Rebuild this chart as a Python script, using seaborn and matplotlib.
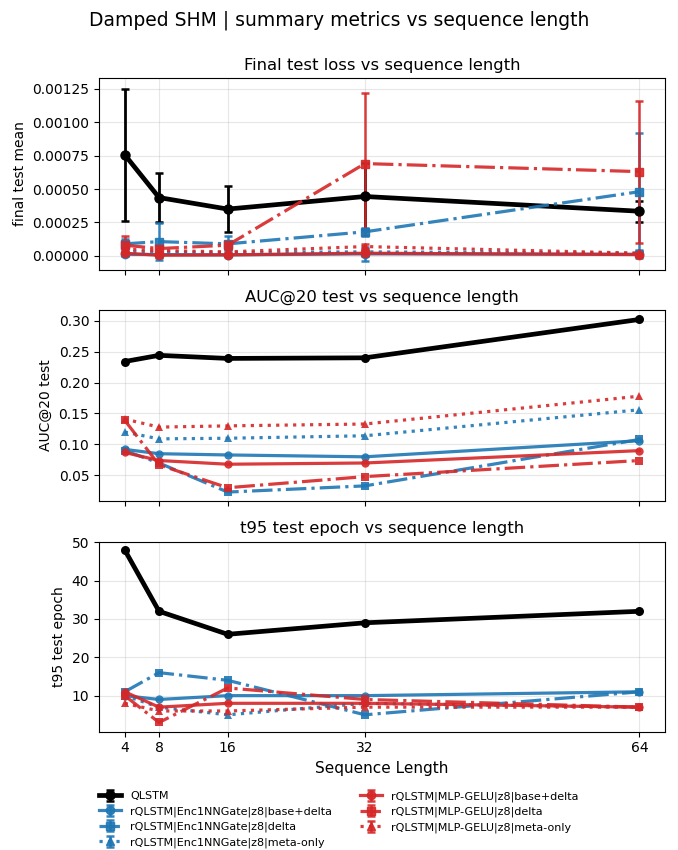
import numpy as np
import pandas as pd
import matplotlib
matplotlib.use("Agg")
import matplotlib.pyplot as plt
import seaborn as sns

seq_len = [4, 8, 16, 32, 64]

series_names = [
    "QLSTM",
    "rQLSTM|Enc1NNGate|z8|base+delta",
    "rQLSTM|Enc1NNGate|z8|delta",
    "rQLSTM|Enc1NNGate|z8|meta-only",
    "rQLSTM|MLP-GELU|z8|base+delta",
    "rQLSTM|MLP-GELU|z8|delta",
    "rQLSTM|MLP-GELU|z8|meta-only",
]

# Final test loss (mean) and error
loss_qlstm = [0.000756, 0.000436, 0.000350, 0.000444, 0.000334]
loss_enc_bd = [0.000012, 0.000010, 0.000008, 0.000015, 0.000012]
loss_enc_d = [0.000090, 0.000107, 0.000090, 0.000180, 0.000480]
loss_enc_m = [0.000030, 0.000030, 0.000025, 0.000030, 0.000020]
loss_mlp_bd = [0.000020, 0.000005, 0.000008, 0.000020, 0.000010]
loss_mlp_d = [0.000080, 0.000055, 0.000080, 0.000690, 0.000630]
loss_mlp_m = [0.000050, 0.000040, 0.000030, 0.000070, 0.000020]

err_qlstm = [0.000495, 0.000180, 0.000173, 0.000250, 0.000080]
err_enc_bd = [0.000010, 0.000020, 0.000010, 0.000055, 0.000030]
err_enc_d = [0.000040, 0.000140, 0.000060, 0.000030, 0.000440]
err_enc_m = [0.000020, 0.000020, 0.000020, 0.000020, 0.000020]
err_mlp_bd = [0.000010, 0.000010, 0.000010, 0.000020, 0.000010]
err_mlp_d = [0.000070, 0.000030, 0.000030, 0.000530, 0.000530]
err_mlp_m = [0.000020, 0.000020, 0.000020, 0.000020, 0.000010]

# AUC@20 test
auc_qlstm = [0.234, 0.244, 0.239, 0.240, 0.302]
auc_enc_bd = [0.092, 0.085, 0.083, 0.080, 0.106]
auc_enc_d = [0.090, 0.070, 0.023, 0.033, 0.108]
auc_enc_m = [0.120, 0.109, 0.110, 0.114, 0.156]
auc_mlp_bd = [0.087, 0.074, 0.068, 0.070, 0.090]
auc_mlp_d = [0.139, 0.067, 0.030, 0.048, 0.074]
auc_mlp_m = [0.141, 0.128, 0.130, 0.133, 0.178]

# t95 test epoch
t95_qlstm = [48, 32, 26, 29, 32]
t95_enc_bd = [10, 9, 10, 10, 11]
t95_enc_d = [11, 16, 14, 5, 11]
t95_enc_m = [10, 7, 5, 8, 7]
t95_mlp_bd = [11, 7, 8, 8, 7]
t95_mlp_d = [10, 3, 12, 9, 7]
t95_mlp_m = [8, 6, 6, 7, 7]

loss_vals = [loss_qlstm, loss_enc_bd, loss_enc_d, loss_enc_m, loss_mlp_bd, loss_mlp_d, loss_mlp_m]
loss_errs = [err_qlstm, err_enc_bd, err_enc_d, err_enc_m, err_mlp_bd, err_mlp_d, err_mlp_m]
auc_vals = [auc_qlstm, auc_enc_bd, auc_enc_d, auc_enc_m, auc_mlp_bd, auc_mlp_d, auc_mlp_m]
t95_vals = [t95_qlstm, t95_enc_bd, t95_enc_d, t95_enc_m, t95_mlp_bd, t95_mlp_d, t95_mlp_m]

BLUE = "#1f77b4"
RED = "#d62728"
styles = [
    dict(color="black", ls="-", marker="o", lw=3.4, ms=6.5, alpha=1.0),
    dict(color=BLUE, ls="-", marker="o", lw=2.3, ms=6, alpha=0.9),
    dict(color=BLUE, ls="-.", marker="s", lw=2.3, ms=6, alpha=0.9),
    dict(color=BLUE, ls=":", marker="^", lw=2.3, ms=6, alpha=0.9),
    dict(color=RED, ls="-", marker="o", lw=2.3, ms=6, alpha=0.9),
    dict(color=RED, ls="-.", marker="s", lw=2.3, ms=6, alpha=0.9),
    dict(color=RED, ls=":", marker="^", lw=2.3, ms=6, alpha=0.9),
]

plt.rcParams["font.family"] = ["DejaVu Sans"]
fig = plt.figure(figsize=(6.78, 8.5), dpi=100)
ax1 = fig.add_axes([0.146, 0.6824, 0.835, 0.2259])
ax2 = fig.add_axes([0.146, 0.4109, 0.835, 0.2239], sharex=ax1)
ax3 = fig.add_axes([0.146, 0.1392, 0.835, 0.2235], sharex=ax1)

# Top panel with error bars
handles = []
for name, vals, errs, st in zip(series_names, loss_vals, loss_errs, styles):
    h = ax1.errorbar(seq_len, vals, yerr=errs, color=st["color"], linestyle=st["ls"],
                     marker=st["marker"], lw=st["lw"], ms=st["ms"], alpha=st["alpha"],
                     capsize=3, elinewidth=2.0 if st["color"] == "black" else 1.8,
                     capthick=1.8, label=name)
    handles.append(h)

for ax, data in [(ax2, auc_vals), (ax3, t95_vals)]:
    for name, vals, st in zip(series_names, data, styles):
        df = pd.DataFrame({"seq": seq_len, "val": vals})
        sns.lineplot(data=df, x="seq", y="val", ax=ax, color=st["color"],
                     linestyle=st["ls"], marker=st["marker"], lw=st["lw"],
                     markersize=st["ms"], alpha=st["alpha"], markeredgewidth=0,
                     errorbar=None, legend=False)

ax1.set_title("Final test loss vs sequence length", fontsize=11.8)
ax2.set_title("AUC@20 test vs sequence length", fontsize=11.8)
ax3.set_title("t95 test epoch vs sequence length", fontsize=11.8)
ax1.set_ylabel("final test mean", fontsize=10)
ax2.set_ylabel("AUC@20 test", fontsize=10)
ax3.set_ylabel("t95 test epoch", fontsize=10)
ax1.set_xlabel("")
ax2.set_xlabel("")
ax3.set_xlabel("Sequence Length", fontsize=11)

ax1.set_ylim(-0.000105, 0.00133)
ax1.set_yticks([0, 0.00025, 0.0005, 0.00075, 0.001, 0.00125])
ax1.yaxis.set_major_formatter(matplotlib.ticker.FormatStrFormatter("%.5f"))
ax2.set_ylim(0.009, 0.3166)
ax2.set_yticks([0.05, 0.10, 0.15, 0.20, 0.25, 0.30])
ax2.yaxis.set_major_formatter(matplotlib.ticker.FormatStrFormatter("%.2f"))
ax3.set_ylim(0.6, 50.15)
ax3.set_yticks([10, 20, 30, 40, 50])
ax3.set_xlim(1, 67)
ax3.set_xticks(seq_len)
ax3.set_xticklabels([str(s) for s in seq_len])

for ax in (ax1, ax2, ax3):
    ax.grid(True, alpha=0.3)
    ax.tick_params(labelsize=10)
plt.setp(ax1.get_xticklabels(), visible=False)
plt.setp(ax2.get_xticklabels(), visible=False)

fig.suptitle("Damped SHM | summary metrics vs sequence length", fontsize=13.5, y=0.988)
fig.legend(handles=handles, labels=series_names, loc="upper center",
           bbox_to_anchor=(0.5, 0.081), ncol=2, frameon=False, fontsize=8,
           columnspacing=2.5, labelspacing=0.45)

fig.savefig("out.png", dpi=100)
